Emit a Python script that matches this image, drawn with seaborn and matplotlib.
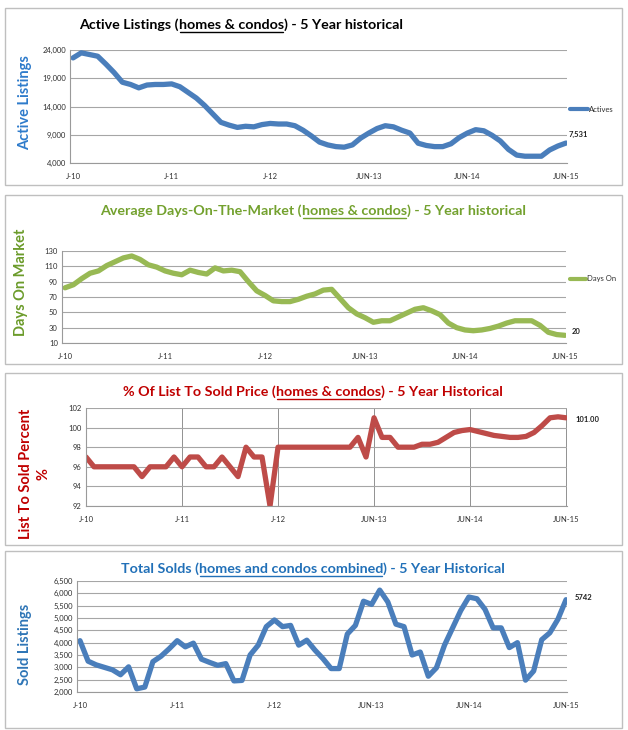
import matplotlib
matplotlib.use("Agg")
import matplotlib.pyplot as plt
from matplotlib.lines import Line2D
from matplotlib.patches import Rectangle
from matplotlib.ticker import FuncFormatter, FixedLocator
import numpy as np
import seaborn as sns

# ---------------- data ----------------
tick_labels = ["J-10", "J-11", "J-12", "JUN-13", "JUN-14", "JUN-15"]

actives = [22600, 23500, 23200, 22900, 21500, 20000, 18300, 17900, 17300, 17800,
           17900, 17900, 18000, 17500, 16500, 15500, 14200, 12700, 11200, 10700,
           10300, 10500, 10400, 10800, 11000, 10900, 10900, 10600, 9800, 8800,
           7700, 7200, 6900, 6800, 7200, 8400, 9300, 10100, 10600, 10400,
           9800, 9300, 7500, 7100, 6900, 6900, 7400, 8500, 9300, 9900,
           9700, 8900, 7900, 6400, 5400, 5200, 5200, 5200, 6300, 7000, 7531]

days_on = [82, 86, 94, 101, 104, 111, 116, 121, 123.5, 119,
           112, 109, 104, 101, 99, 105, 102, 100, 108, 104,
           105, 103, 90, 78, 72, 65, 64, 64, 67, 71,
           74, 79, 80, 68, 56, 48, 43, 37, 39, 39,
           44, 49, 54, 56, 52, 47, 36, 30, 27, 26,
           27, 29, 32, 36, 39, 39, 39, 33, 24, 21, 20]

list_to_sold = [97, 96, 96, 96, 96, 96, 96, 95, 96, 96,
                96, 97, 96, 97, 97, 96, 96, 97, 96, 95,
                98, 97, 97, 92, 98, 98, 98, 98, 98, 98,
                98, 98, 98, 98, 99, 97, 101, 99, 99, 98,
                98, 98, 98.3, 98.3, 98.5, 99, 99.5, 99.7, 99.8, 99.6,
                99.4, 99.2, 99.1, 99.0, 99.0, 99.1, 99.5, 100.2, 101.0, 101.1, 101.0]

solds = [4080, 3250, 3100, 3000, 2900, 2700, 3020, 2130, 2200, 3230,
         3450, 3750, 4080, 3830, 3980, 3330, 3200, 3080, 3150, 2450,
         2470, 3500, 3900, 4650, 4920, 4650, 4700, 3900, 4100, 3700,
         3350, 2950, 2950, 4350, 4700, 5680, 5550, 6130, 5650, 4750,
         4650, 3500, 3620, 2640, 2980, 3900, 4600, 5300, 5850, 5780,
         5350, 4600, 4600, 3800, 4000, 2480, 2850, 4120, 4400, 4950, 5742]

# ---------------- style ----------------
sns.set_style("white")
plt.rcParams["font.family"] = ["Lato", "DejaVu Sans"]

W, H = 628, 730
fig = plt.figure(figsize=(W / 100, H / 100), dpi=100)
fig.patch.set_facecolor("white")

TITLE_SIZE = 10.3
YLAB_SIZE = 10.5


def fx(px):
    return px / W


def fy(py):
    return 1 - py / H


def add_box(x0, y0, x1, y1):
    fig.patches.append(Rectangle((fx(x0), fy(y1)), fx(x1) - fx(x0), fy(y0) - fy(y1),
                                 transform=fig.transFigure, fill=False,
                                 edgecolor="#BFBFBF", linewidth=1.0, zorder=0))


def title_underlined(xc, y, parts, color, size):
    renderer = fig.canvas.get_renderer()
    widths = []
    for p in parts:
        t = fig.text(0, 0, p, fontsize=size, fontweight="bold")
        bb = t.get_window_extent(renderer)
        widths.append(bb.width)
        t.remove()
    total = sum(widths)
    x = xc - total / 2
    xs = []
    for p, w in zip(parts, widths):
        fig.text(fx(x), fy(y), p, fontsize=size, fontweight="bold", color=color,
                 ha="left", va="baseline")
        xs.append((x, x + w))
        x += w
    ux0, ux1 = xs[1]
    fig.lines.append(Line2D([fx(ux0 + 1), fx(ux1 - 1)], [fy(y + 2.5), fy(y + 2.5)],
                            transform=fig.transFigure, color=color, linewidth=1.0))


def make_axes(left, right, top, bottom):
    return fig.add_axes([fx(left), fy(bottom), fx(right) - fx(left), fy(top) - fy(bottom)])


def style_axes(ax, values, color, ylim, yticks, fmt, xlim, vgrid=False):
    x = np.arange(len(values))
    sns.lineplot(x=x, y=values, ax=ax, color=color, linewidth=3.8,
                 solid_capstyle="round", solid_joinstyle="round")
    ax.set_xlim(*xlim)
    ax.set_ylim(*ylim)
    ax.set_yticks(yticks)
    ax.yaxis.set_major_formatter(FuncFormatter(fmt))
    major = [0, 12, 24, 36, 48, 60]
    ax.xaxis.set_major_locator(FixedLocator(major))
    ax.set_xticklabels(tick_labels)
    ax.xaxis.set_minor_locator(FixedLocator(list(range(0, 61))))
    ax.tick_params(axis="x", which="both", direction="out", length=3, width=0.6,
                   color="#888888", labelsize=5.5, labelcolor="#303030", pad=4)
    ax.tick_params(axis="y", which="both", length=0, labelsize=5.5,
                   labelcolor="#303030", pad=3)
    ax.grid(axis="y", color="#A6A6A6", linewidth=0.8)
    if vgrid:
        ax.grid(axis="x", which="major", color="#808080", linewidth=0.6)
    ax.set_axisbelow(True)
    for s in ["top", "right"]:
        ax.spines[s].set_visible(False)
    for s in ["left", "bottom"]:
        ax.spines[s].set_color("#9A9A9A")
        ax.spines[s].set_linewidth(0.8)
    ax.set_xlabel("")
    ax.set_ylabel("")
    ax.patch.set_alpha(0)


comma = lambda v, p: f"{int(v):,}"
plain = lambda v, p: f"{int(v)}"

BLUE_LINE = "#4A7EBB"
GREEN_LINE = "#98B954"
RED_LINE = "#BE4B48"

# ---------- Panel 1 ----------
add_box(5, 8, 622, 185)
title_underlined(241, 29, ["Active Listings (", "homes & condos", ") - 5 Year historical"],
                 "black", TITLE_SIZE)
ax1 = make_axes(70, 567, 50, 163)
style_axes(ax1, actives, BLUE_LINE, (4000, 24000), [4000, 9000, 14000, 19000, 24000],
           comma, (-0.37, 60.12))
fig.text(fx(25), fy(103), "Active Listings", rotation=90, ha="center", va="center",
         fontsize=YLAB_SIZE, fontweight="bold", color="#2E7BCB")
fig.lines.append(Line2D([fx(570), fx(588)], [fy(109), fy(109)], transform=fig.transFigure,
                        color=BLUE_LINE, linewidth=3.0))
fig.text(fx(589), fy(109), "Actives", fontsize=5.5, va="center", ha="left", color="#303030")
fig.text(fx(569), fy(134), f"{actives[-1]:,}", fontsize=5.5, fontweight="bold",
         va="center", ha="left", color="#202020")

# ---------- Panel 2 ----------
add_box(5, 195, 622, 364)
title_underlined(313, 215, ["Average Days-On-The-Market (", "homes & condos",
                            ") - 5 Year historical"], "#73A12E", TITLE_SIZE)
ax2 = make_axes(62, 566, 251, 343)
style_axes(ax2, days_on, GREEN_LINE, (10, 130), list(range(10, 131, 20)), plain,
           (-0.37, 60.12))
fig.text(fx(21), fy(282), "Days On Market", rotation=90, ha="center", va="center",
         fontsize=YLAB_SIZE, fontweight="bold", color="#6B9B2A")
fig.lines.append(Line2D([fx(570), fx(586)], [fy(279), fy(279)], transform=fig.transFigure,
                        color=GREEN_LINE, linewidth=3.0))
fig.text(fx(587), fy(279), "Days On", fontsize=5.5, va="center", ha="left", color="#303030")
fig.text(fx(572), fy(332), f"{days_on[-1]}", fontsize=5.5, fontweight="bold",
         va="center", ha="left", color="#202020")

# ---------- Panel 3 ----------
add_box(5, 373, 622, 545)
title_underlined(313, 396, ["% Of List To Sold Price (", "homes & condos",
                            ") - 5 Year Historical"], "#C00000", TITLE_SIZE)
ax3 = make_axes(86, 567, 408, 506)
style_axes(ax3, list_to_sold, RED_LINE, (92, 102), list(range(92, 103, 2)), plain,
           (0, 60.12), vgrid=True)
fig.text(fx(26), fy(474), "List To Sold Percent", rotation=90, ha="center", va="center",
         fontsize=YLAB_SIZE, fontweight="bold", color="#C00000")
fig.text(fx(43), fy(474), "%", rotation=90, ha="center", va="center",
         fontsize=YLAB_SIZE, fontweight="bold", color="#C00000")
fig.text(fx(576), fy(419), f"{list_to_sold[-1]:.2f}", fontsize=5.5, fontweight="bold",
         va="center", ha="left", color="#202020")

# ---------- Panel 4 ----------
add_box(5, 551, 622, 728)
title_underlined(313, 573, ["Total Solds (", "homes and condos combined",
                            ") - 5 Year Historical"], "#2170B8", TITLE_SIZE)
ax4 = make_axes(77, 567, 581, 692)
style_axes(ax4, solds, BLUE_LINE, (2000, 6500), list(range(2000, 6501, 500)), comma,
           (-0.37, 60.12))
fig.text(fx(25), fy(644), "Sold Listings", rotation=90, ha="center", va="center",
         fontsize=YLAB_SIZE, fontweight="bold", color="#2E75B6")
fig.text(fx(575), fy(598), f"{solds[-1]}", fontsize=5.5, fontweight="bold",
         va="center", ha="left", color="#202020")

fig.savefig("out.png", dpi=100, facecolor="white")
